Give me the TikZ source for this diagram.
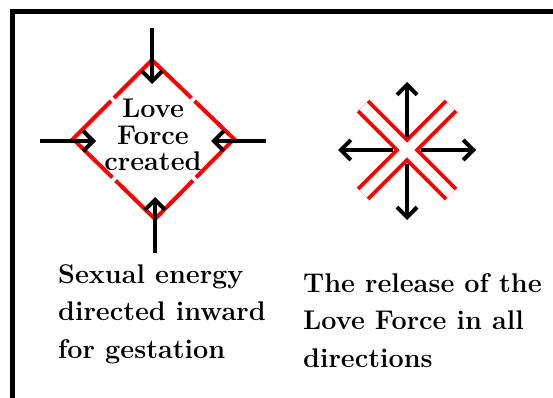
\documentclass[tikz,border=0pt]{standalone}
\usetikzlibrary{arrows.meta,calc}
\begin{document}
\begin{tikzpicture}[x=1pt,y=-1pt,
  frameline/.style={line width=5pt},
  blackarrow/.style={line width=4pt, -{Straight Barb[length=10pt,width=20pt]}},
  redline/.style={red, line width=4pt},
  redouter/.style={red, line width=18pt},
  redinner/.style={white, line width=10pt},
  captext/.style={font=\bfseries\fontsize{27}{37.5}\selectfont, inner sep=0pt, align=left},
  diamtext/.style={font=\bfseries\fontsize{27}{36}\selectfont, inner sep=0pt, anchor=base}
]
\useasboundingbox (0,0) rectangle (553,398);
\clip (0,0) rectangle (553,398);
\fill[white] (0,0) rectangle (553,398);
% frame
\coordinate (fbl) at (12,420);
\coordinate (ftl) at (12,12);
\coordinate (ftr) at (580,12);
\draw[frameline] (fbl) -- (ftl) -- (ftr);

% diamond
\coordinate (dT) at (152,60);
\coordinate (dR) at (234,139);
\coordinate (dB) at (155,219);
\coordinate (dL) at (73,139);
\draw[redline] ($(dT)!0.48!(dL)$) -- (dT) -- ($(dT)!0.48!(dR)$);
\draw[redline] ($(dR)!0.48!(dT)$) -- (dR) -- ($(dR)!0.48!(dB)$);
\draw[redline] ($(dB)!0.48!(dR)$) -- (dB) -- ($(dB)!0.48!(dL)$);
\draw[redline] ($(dL)!0.48!(dB)$) -- (dL) -- ($(dL)!0.48!(dT)$);

\node[diamtext] (love) at (153,118) {Love};
\node[diamtext] (force) at (153,144) {Force};
\node[diamtext] (created) at (153,170) {created};

% inward arrows
\coordinate (inTs) at (152,28);  \coordinate (inTe) at (152,84);
\coordinate (inLs) at (40,141);  \coordinate (inLe) at (96,141);
\coordinate (inRs) at (266,141); \coordinate (inRe) at (211,141);
\coordinate (inBs) at (155,253); \coordinate (inBe) at (155,197);
\draw[blackarrow] (inTs) -- (inTe);
\draw[blackarrow] (inLs) -- (inLe);
\draw[blackarrow] (inRs) -- (inRe);
\draw[blackarrow] (inBs) -- (inBe);

% red X
\coordinate (xa1) at (363,106); \coordinate (xa2) at (451,194);
\coordinate (xb1) at (451,106); \coordinate (xb2) at (363,194);
\draw[redouter] (xa1) -- (xa2);
\draw[redouter] (xb1) -- (xb2);
\draw[redinner] (xa1) -- (xa2);
\draw[redinner] (xb1) -- (xb2);

% outward arrows
\coordinate (oTs) at (407,137); \coordinate (oTe) at (407,82);
\coordinate (oBs) at (407,164); \coordinate (oBe) at (407,220);
\coordinate (oLs) at (393,150); \coordinate (oLe) at (338,150);
\coordinate (oRs) at (421,150); \coordinate (oRe) at (476,150);
\draw[blackarrow] (oTs) -- (oTe);
\draw[blackarrow] (oBs) -- (oBe);
\draw[blackarrow] (oLs) -- (oLe);
\draw[blackarrow] (oRs) -- (oRe);

% captions
\node[captext, anchor=north west] (capL) at (58,264) {Sexual energy\\directed inward\\for gestation};
\node[captext, anchor=north west] (capR) at (303,273) {The release of the\\Love Force in all\\directions};
\end{tikzpicture}
\end{document}
